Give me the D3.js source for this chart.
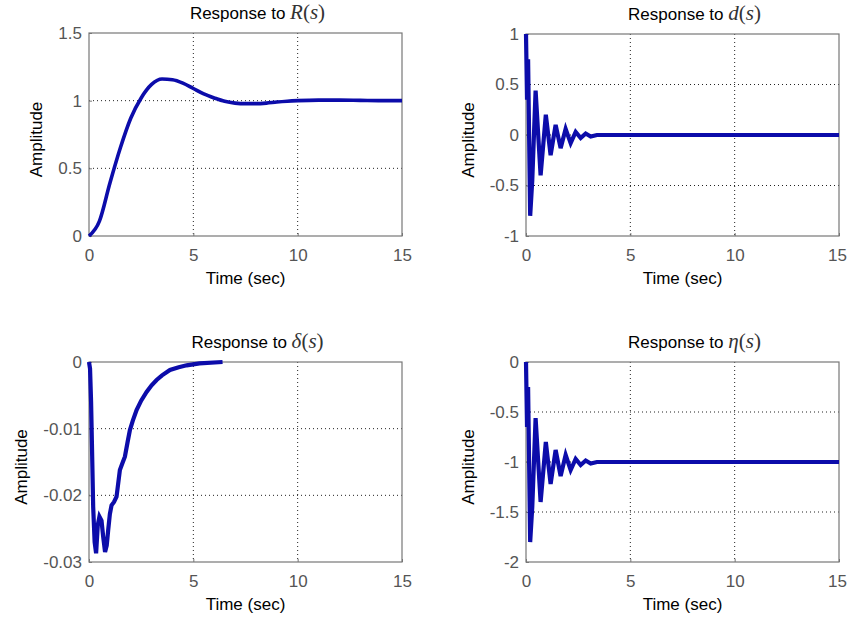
<html lang='en'>
<head>
   <meta charset='UTF-8'>
   <script src='https://d3js.org/d3.v7.min.js'></script>
   <style>
      body{
         margin: 0;
         padding: 0;
         background-color: white;
      }
      .tick text{
         font-family: 'Liberation Sans', Arial, sans-serif;
         font-size: 17px;
         fill: #555;
      }
   </style>
</head>
<body>
   <div id='tavola'></div>
   <script>
   var xTicks = [0, 5, 10, 15];

   var tR = [0, 0.5, 1.0, 1.5, 2.0, 2.5, 3.0, 3.5, 4.0, 4.5, 5.0, 5.5, 6.0, 6.5, 7.0, 7.5, 8.0, 8.5, 9.0, 9.5, 10, 11, 12, 13, 14, 15];
   var yR = [0, 0.11, 0.39, 0.65, 0.87, 1.02, 1.12, 1.16, 1.155, 1.13, 1.09, 1.05, 1.02, 0.995, 0.982, 0.978, 0.978, 0.982, 0.99, 0.996, 1.0, 1.004, 1.004, 1.002, 1.0, 1.0];

   var tD = [0, 0.05, 0.1, 0.2, 0.3, 0.46, 0.7, 0.95, 1.18, 1.42, 1.66, 1.9, 2.14, 2.38, 2.62, 2.86, 3.1, 3.4, 15];
   var yD = [1, 0.35, 0.75, -0.8, -0.45, 0.44, -0.4, 0.2, -0.2, 0.1, -0.13, 0.06, -0.08, 0.03, -0.03, 0.015, -0.015, 0, 0];

   var tDelta = [0, 0.05, 0.1, 0.14, 0.2, 0.27, 0.34, 0.42, 0.5, 0.6, 0.68, 0.77, 0.85, 0.92, 1.0, 1.08, 1.2, 1.32, 1.48, 1.6, 1.72, 1.85, 1.96, 2.1, 2.28, 2.5, 2.76, 3.0, 3.24, 3.5, 3.88, 4.3, 4.68, 5.3, 6.4];
   var yDelta = [0, -0.001, -0.006, -0.0122, -0.0217, -0.027, -0.0287, -0.0245, -0.0232, -0.0238, -0.0262, -0.0285, -0.0275, -0.0252, -0.0228, -0.0215, -0.021, -0.0202, -0.0162, -0.0152, -0.0142, -0.012, -0.0102, -0.0088, -0.0072, -0.0058, -0.0045, -0.0035, -0.0027, -0.002, -0.0012, -0.0008, -0.0005, -0.0002, 0];

   var tEta = [0, 0.05, 0.1, 0.2, 0.3, 0.46, 0.7, 0.95, 1.18, 1.42, 1.66, 1.9, 2.14, 2.38, 2.62, 2.86, 3.1, 3.4, 15];
   var yEta = [0, -0.65, -0.25, -1.8, -1.45, -0.56, -1.4, -0.8, -1.22, -0.88, -1.14, -0.93, -1.08, -0.97, -1.03, -0.985, -1.015, -1, -1];

   var yTicksR = [0, 0.5, 1, 1.5];
   var yTicksD = [-1, -0.5, 0, 0.5, 1];
   var yTicksDelta = [-0.03, -0.02, -0.01, 0];
   var yTicksEta = [-2, -1.5, -1, -0.5, 0];

   var panels = [
      {sym: ['R', '(', 's', ')'], t: tR, y: yR, yTicks: yTicksR, smooth: true, x0: 89, y0: 33, h: 203},
      {sym: ['d', '(', 's', ')'], t: tD, y: yD, yTicks: yTicksD, smooth: false, x0: 526, y0: 34, h: 202},
      {sym: ['\u03b4', '(', 's', ')'], t: tDelta, y: yDelta, yTicks: yTicksDelta, smooth: false, x0: 89, y0: 362, h: 200},
      {sym: ['\u03b7', '(', 's', ')'], t: tEta, y: yEta, yTicks: yTicksEta, smooth: false, x0: 526, y0: 362, h: 200}
   ];
   var W = 313;

   var fmt = function(d){ return String(+d.toFixed(4)); };

   var svg = d3.select('#tavola').append('svg')
      .attr('width', 847)
      .attr('height', 626);

   panels.forEach(function(p){
      var g = svg.append('g').attr('transform', 'translate(' + p.x0 + ',' + p.y0 + ')');
      var x = d3.scaleLinear().domain([0, 15]).range([0, W]);
      var y = d3.scaleLinear().domain(d3.extent(p.yTicks)).range([p.h, 0]);

      // grid
      g.selectAll('.gx').data(xTicks.slice(1, -1)).enter().append('line')
         .attr('x1', function(d){ return x(d); }).attr('x2', function(d){ return x(d); })
         .attr('y1', 0).attr('y2', p.h)
         .attr('stroke', '#222').attr('stroke-dasharray', '1,3');
      g.selectAll('.gy').data(p.yTicks.slice(1, -1)).enter().append('line')
         .attr('y1', function(d){ return y(d); }).attr('y2', function(d){ return y(d); })
         .attr('x1', 0).attr('x2', W)
         .attr('stroke', '#222').attr('stroke-dasharray', '1,3');

      // axes
      var ax = g.append('g').attr('transform', 'translate(0,' + p.h + ')')
         .call(d3.axisBottom(x).tickValues(xTicks).tickSizeInner(-3).tickSizeOuter(0).tickPadding(10).tickFormat(fmt));
      var ay = g.append('g')
         .call(d3.axisLeft(y).tickValues(p.yTicks).tickSizeInner(-3).tickSizeOuter(0).tickPadding(7).tickFormat(fmt));
      ax.select('.domain').remove();
      ay.select('.domain').remove();
      ax.selectAll('line').attr('stroke', '#777');
      ay.selectAll('line').attr('stroke', '#777');
      ax.selectAll('text').attr('dy', '0.9em');
      // keep the last label inside the window
      if (p.x0 + W + 10 > 847) {
         ax.selectAll('text').filter(function(d){ return d === 15; }).attr('dx', -2);
      }

      // box
      g.append('rect').attr('width', W).attr('height', p.h)
         .attr('fill', 'none').attr('stroke', '#777').attr('stroke-width', 1.2);

      // curve
      var pts = p.t.map(function(t, i){ return [t, p.y[i]]; });
      g.append('path')
         .attr('d', d3.line().x(function(d){ return x(d[0]); }).y(function(d){ return y(d[1]); })
            .curve(p.smooth ? d3.curveMonotoneX : d3.curveLinear)(pts))
         .attr('fill', 'none')
         .attr('stroke', '#0c0caa')
         .attr('stroke-width', p.smooth ? 3.6 : 4.2)
         .attr('stroke-linejoin', 'miter');

      // title
      var title = g.append('text')
         .attr('x', W / 2 + 12).attr('y', -14)
         .attr('text-anchor', 'middle')
         .attr('font-family', "'Liberation Sans', Arial, sans-serif")
         .attr('font-size', 17);
      title.append('tspan').text('Response to ');
      p.sym.forEach(function(s){
         title.append('tspan')
            .attr('font-family', "'Liberation Serif', 'DejaVu Serif', serif")
            .attr('font-style', (s === '(' || s === ')') ? 'normal' : 'italic')
            .attr('font-size', 21)
            .attr('fill', '#333')
            .text(s);
      });

      // labels
      g.append('text')
         .attr('x', W / 2).attr('y', p.h + 48)
         .attr('text-anchor', 'middle')
         .attr('font-family', "'Liberation Sans', Arial, sans-serif")
         .attr('font-size', 17)
         .text('Time (sec)');
      var bb = ay.node().getBBox();
      g.append('text')
         .attr('transform', 'translate(' + (bb.x - 16) + ',' + (p.h / 2 + 5) + ') rotate(-90)')
         .attr('text-anchor', 'middle')
         .attr('font-family', "'Liberation Sans', Arial, sans-serif")
         .attr('font-size', 17)
         .text('Amplitude');
   });
   </script>
</body>
</html>
